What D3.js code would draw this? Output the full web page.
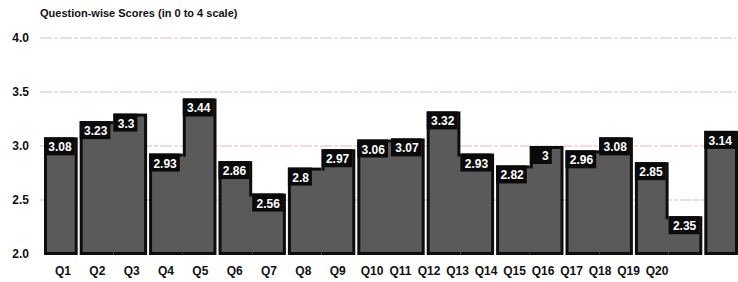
<!DOCTYPE html>
<html>
<head>
<meta charset="utf-8">
<script src="https://cdn.jsdelivr.net/npm/d3@7/dist/d3.min.js"></script>
<style>
  html, body { margin: 0; padding: 0; background: #fff; }
  svg { display: block; font-family: "Liberation Sans", Arial, sans-serif; }
</style>
</head>
<body>
<svg id="chart" width="738" height="282"></svg>
<script>
const categories = ["Q1","Q2","Q3","Q4","Q5","Q6","Q7","Q8","Q9","Q10",
                    "Q11","Q12","Q13","Q14","Q15","Q16","Q17","Q18","Q19","Q20"];
const scores = [3.08, 3.23, 3.3, 2.93, 3.44, 2.86, 2.56, 2.8, 2.97, 3.06,
                3.07, 3.32, 2.93, 2.82, 3, 2.96, 3.08, 2.85, 2.35, 3.14];
const valueLabels = ["3.08","3.23","3.3","2.93","3.44","2.86","2.56","2.8","2.97","3.06",
                     "3.07","3.32","2.93","2.82","3","2.96","3.08","2.85","2.35","3.14"];
const yTicks = [2.0, 2.5, 3.0, 3.5, 4.0];
const titleText = "Question-wise Scores (in 0 to 4 scale)";

const svg = d3.select("#chart");

const x = d3.scaleBand().domain(categories).range([44, 738]).paddingInner(0).paddingOuter(0);
const y = d3.scaleLinear().domain([2, 4]).range([254, 38]);
// tick labels in the reference are laid out on their own track
const labelX = d3.scaleLinear().domain([0, 9, 19]).range([63, 372, 657]);

const bw = x.bandwidth();
const B = 3; // border width
// bars are visually merged in pairs: (Q1), (Q2,Q3), (Q4,Q5) ... (Q20)
const pairedRight = i => i % 2 === 1 && i + 1 < categories.length;
const leftShift = i => (i % 2 === 1 ? 1 : 0);
const rightShrink = i => (i % 2 === 0 && i < categories.length - 1 ? 1 : 0);

// title
svg.append("text")
  .attr("x", 40).attr("y", 17)
  .attr("font-size", 11).attr("font-weight", "bold").attr("fill", "#111")
  .text(titleText);

// gridlines
svg.append("g")
  .selectAll("line")
  .data(yTicks.filter(d => d > 2))
  .join("line")
  .attr("x1", 40).attr("x2", 736)
  .attr("y1", d => y(d)).attr("y2", d => y(d))
  .attr("stroke", "#e3b8b8").attr("stroke-width", 1)
  .attr("stroke-dasharray", "12,2,4,2");

// y axis labels
const yAxis = d3.axisLeft(y).tickValues(yTicks).tickFormat(d3.format(".1f")).tickSize(0).tickPadding(0);
const yg = svg.append("g").attr("transform", "translate(29,0)").call(yAxis);
yg.select(".domain").remove();
yg.selectAll("text").attr("font-size", 12).attr("font-weight", "bold").attr("fill", "#111")
  .attr("font-family", "Liberation Sans, Arial, sans-serif");

// bars: black outline shapes
const bars = svg.append("g");
bars.selectAll("rect.outer")
  .data(scores)
  .join("rect")
  .attr("class", "outer")
  .attr("x", (d, i) => x(categories[i]) + leftShift(i))
  .attr("y", d => y(d))
  .attr("width", (d, i) => bw - leftShift(i) - rightShrink(i))
  .attr("height", d => y(2) - y(d) + 1)
  .attr("fill", "#0d0d0d");

// gray interior
bars.selectAll("rect.inner")
  .data(scores)
  .join("rect")
  .attr("class", "inner")
  .attr("x", (d, i) => x(categories[i]) + leftShift(i) + B)
  .attr("y", d => y(d) + B)
  .attr("width", (d, i) => bw - leftShift(i) - rightShrink(i) - 2 * B)
  .attr("height", d => y(2) - y(d) + 1 - 2 * B)
  .attr("fill", "#5a5a5a");

// bridge the interior across the boundary inside each pair
bars.selectAll("rect.bridge")
  .data(categories.filter((c, i) => pairedRight(i)))
  .join("rect")
  .attr("class", "bridge")
  .attr("x", c => x(c) + bw - B - 1)
  .attr("y", c => {
    const i = categories.indexOf(c);
    return Math.max(y(scores[i]), y(scores[i + 1])) + B;
  })
  .attr("width", 2 * B + 2)
  .attr("height", c => {
    const i = categories.indexOf(c);
    return y(2) + 1 - B - (Math.max(y(scores[i]), y(scores[i + 1])) + B);
  })
  .attr("fill", "#5a5a5a");

// value labels with dark boxes
const lab = svg.append("g").selectAll("g")
  .data(scores)
  .join("g")
  .attr("transform", (d, i) => `translate(${x(categories[i]) + leftShift(i)},${y(d)})`);
lab.append("text")
  .attr("y", 14)
  .attr("text-anchor", "end")
  .attr("font-size", 12).attr("font-weight", "bold").attr("fill", "#fff")
  .text((d, i) => valueLabels[i]);
lab.each(function() {
  const g = d3.select(this);
  const t = g.select("text");
  const bb = t.node().getBBox();
  const w = Math.max(bb.width + 7, 22);
  t.attr("x", w - 3);
  g.insert("rect", "text")
    .attr("x", 0).attr("y", 0)
    .attr("width", w).attr("height", 18)
    .attr("fill", "#0a0a0a");
});

// x tick labels
svg.append("g").selectAll("text")
  .data(categories)
  .join("text")
  .attr("x", (d, i) => labelX(i))
  .attr("y", 275)
  .attr("text-anchor", "middle")
  .attr("font-size", 12).attr("font-weight", "bold").attr("fill", "#111")
  .text(d => d);
</script>
</body>
</html>
